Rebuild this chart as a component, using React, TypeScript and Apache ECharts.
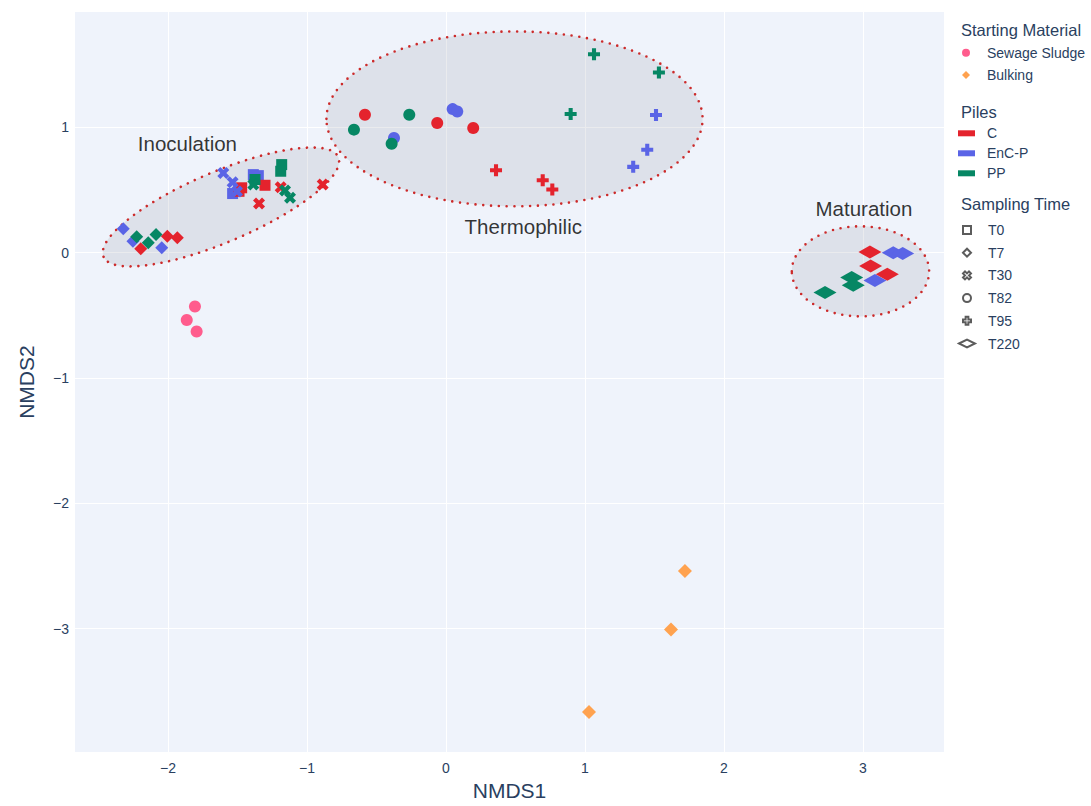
import React, { useEffect, useRef } from "react";
import * as echarts from "echarts";

// ---------- data ----------
const PILES = ["EnC-P", "C", "PP"]; // drawing order
const PILE_LEGEND = ["C", "EnC-P", "PP"];
const PILE_COLORS: Record<string, string> = { C: "#E4232D", "EnC-P": "#5A64E6", PP: "#068764" };
const TIMES = ["T0", "T7", "T30", "T82", "T95", "T220"];

const SEWAGE_SLUDGE = [[-1.806, -0.43], [-1.865, -0.537], [-1.794, -0.629]];
const BULKING = [[1.719, -2.54], [1.619, -3.007], [1.029, -3.665]];

const C_T0 = [[-1.47, 0.518], [-1.489, 0.49], [-1.302, 0.538]];
const C_T7 = [[-2.196, 0.032], [-2.005, 0.132], [-1.933, 0.119]];
const C_T30 = [[-1.345, 0.393], [-1.189, 0.522], [-0.887, 0.544]];
const C_T82 = [[-0.583, 1.101], [-0.063, 1.035], [0.196, 0.995]];
const C_T95 = [[0.36, 0.658], [0.696, 0.578], [0.765, 0.504]];
const C_T220 = [[3.05, 0.005], [3.055, -0.107], [3.175, -0.173]];

const ENCP_T0 = [[-1.386, 0.623], [-1.35, 0.615], [-1.535, 0.472]];
const ENCP_T7 = [[-2.322, 0.191], [-2.252, 0.092], [-2.045, 0.04]];
const ENCP_T30 = [[-1.602, 0.637], [-1.535, 0.562], [-1.504, 0.488]];
const ENCP_T82 = [[-0.374, 0.916], [0.048, 1.146], [0.081, 1.127]];
const ENCP_T95 = [[1.511, 1.099], [1.448, 0.822], [1.347, 0.685]];
const ENCP_T220 = [[3.218, 0.0], [3.286, -0.006], [3.086, -0.221]];

const PP_T0 = [[-1.182, 0.703], [-1.189, 0.65], [-1.374, 0.584]];
const PP_T7 = [[-2.225, 0.127], [-2.142, 0.08], [-2.086, 0.146]];
const PP_T30 = [[-1.386, 0.544], [-1.158, 0.496], [-1.122, 0.438]];
const PP_T82 = [[-0.662, 0.982], [-0.264, 1.101], [-0.391, 0.87]];
const PP_T95 = [[1.065, 1.584], [1.532, 1.438], [0.897, 1.107]];
const PP_T220 = [[2.919, -0.199], [2.93, -0.26], [2.727, -0.318]];

const POINTS: Record<string, number[][][]> = {
  C: [C_T0, C_T7, C_T30, C_T82, C_T95, C_T220],
  "EnC-P": [ENCP_T0, ENCP_T7, ENCP_T30, ENCP_T82, ENCP_T95, ENCP_T220],
  PP: [PP_T0, PP_T7, PP_T30, PP_T82, PP_T95, PP_T220],
};

// phase ellipses: [centerX, centerY, semi-major, semi-minor (x-axis units), angle deg]
const PHASE_ELLIPSES = [
  [-1.619, 0.365, 0.917, 0.253, 23],
  [0.493, 1.068, 1.353, 0.629, 0],
  [2.982, -0.149, 0.494, 0.324, 0],
];
const PHASE_LABELS = ["Inoculation", "Thermophilic", "Maturation"];
const PHASE_LABEL_POS = [[-1.86, 0.875], [0.556, 0.212], [3.007, 0.353]];

// ---------- symbols ----------
const X_PATH = "path://M0,2.5L2.5,0L5,2.5L7.5,0L10,2.5L7.5,5L10,7.5L7.5,10L5,7.5L2.5,10L0,7.5L2.5,5Z";
const PLUS_PATH = "path://M3.3,0H6.7V3.3H10V6.7H6.7V10H3.3V6.7H0V3.3H3.3Z";
const SQUARE_PATH = "path://M0,0H10V10H0Z";
const DIAMOND_PATH = "path://M0,5L5,0L10,5L5,10Z";
const CIRCLE_PATH = "path://M0,5A5,5,0,1,1,10,5A5,5,0,1,1,0,5Z";
const WIDE_DIAMOND_PATH = "path://M0,4.5L9,0L18,4.5L9,9Z";
const BAR_PATH = "path://M0,0H17V6H0Z";
const TIME_SYMBOLS = ["rect", "diamond", X_PATH, "circle", PLUS_PATH, "diamond"];
const TIME_SIZES: any[] = [11, 13, 12, 12, 12, [23, 13]];
const TIME_LEGEND_ICONS = [SQUARE_PATH, DIAMOND_PATH, X_PATH, CIRCLE_PATH, PLUS_PATH, WIDE_DIAMOND_PATH];

const FONT = 'Arial, "Liberation Sans", Helvetica, sans-serif';
const TEXT_COLOR = "#2a3f5f";

const fmt = (v: number) => (v < 0 ? "\u2212" + Math.abs(v) : String(v));

export default function App() {
  const ref = useRef<HTMLDivElement>(null);

  useEffect(() => {
    if (!ref.current) return;
    const chart = echarts.init(ref.current, undefined, { renderer: "svg" });

    const series: any[] = [];

    series.push({
      type: "custom",
      name: "phases",
      silent: true,
      data: PHASE_ELLIPSES,
      renderItem: (params: any, api: any) => {
        const c = api.coord([api.value(0), api.value(1)]);
        const unit = api.size([1, 0])[0];
        return {
          type: "ellipse",
          x: c[0],
          y: c[1],
          rotation: (api.value(4) * Math.PI) / 180,
          shape: { cx: 0, cy: 0, rx: api.value(2) * unit, ry: api.value(3) * unit },
          style: {
            fill: "rgba(150,155,170,0.2)",
            stroke: "#cc2a2a",
            lineWidth: 2.6,
            lineDash: [0, 7.8],
            lineCap: "round",
          },
        };
      },
    });

    series.push({
      type: "scatter",
      name: "Sewage Sludge",
      symbol: "circle",
      symbolSize: 12,
      itemStyle: { color: "#FF5C8D", opacity: 1 },
      data: SEWAGE_SLUDGE,
    });
    series.push({
      type: "scatter",
      name: "Bulking",
      symbol: "diamond",
      symbolSize: 14,
      itemStyle: { color: "#FFA24F", opacity: 1 },
      data: BULKING,
    });

    TIMES.forEach((t, ti) => {
      PILES.forEach((p) => {
        series.push({
          type: "scatter",
          name: p,
          symbol: TIME_SYMBOLS[ti],
          symbolSize: TIME_SIZES[ti],
          itemStyle: { color: PILE_COLORS[p], opacity: 1 },
          data: POINTS[p][ti],
        });
      });
    });

    // dummy series for the Sampling Time legend
    TIMES.forEach((t, ti) => {
      series.push({
        type: "scatter",
        name: t,
        symbol: TIME_LEGEND_ICONS[ti],
        itemStyle: { color: "rgba(0,0,0,0)", borderColor: "#333", borderWidth: 1.4 },
        data: [],
      });
    });

    series.push({
      type: "scatter",
      name: "phase labels",
      silent: true,
      symbolSize: 1,
      itemStyle: { color: "rgba(0,0,0,0)" },
      label: {
        show: true,
        position: "inside",
        formatter: "{b}",
        fontSize: 20.5,
        color: "#000000",
        textBorderWidth: 0,
        fontFamily: FONT,
      },
      data: PHASE_LABELS.map((n, i) => ({ name: n, value: PHASE_LABEL_POS[i] })),
    });

    const legendText = {
      fontSize: 14,
      color: TEXT_COLOR,
      lineHeight: 16,
      fontFamily: FONT,
    };

    chart.setOption({
      animation: false,
      textStyle: { fontFamily: FONT },
      grid: {
        left: 75,
        right: 147,
        top: 12,
        bottom: 52,
        show: true,
        backgroundColor: "#eff3fb",
        borderWidth: 0,
      },
      xAxis: {
        type: "value",
        min: -2.669,
        max: 3.583,
        axisLine: { show: false },
        axisTick: { show: false },
        splitLine: { show: true, lineStyle: { color: "#ffffff", width: 1 }, showMinLine: false, showMaxLine: false },
        axisLabel: {
          color: TEXT_COLOR,
          fontSize: 14,
          margin: 9,
          showMinLabel: false,
          showMaxLabel: false,
          formatter: fmt,
        },
        name: "NMDS1",
        nameLocation: "middle",
        nameGap: 25,
        nameTextStyle: { fontSize: 21, color: TEXT_COLOR },
      },
      yAxis: {
        type: "value",
        min: -3.986,
        max: 1.921,
        axisLine: { show: false },
        axisTick: { show: false },
        splitLine: { show: true, lineStyle: { color: "#ffffff", width: 1 }, showMinLine: false, showMaxLine: false },
        axisLabel: {
          color: TEXT_COLOR,
          fontSize: 14,
          margin: 6,
          showMinLabel: false,
          showMaxLabel: false,
          formatter: fmt,
        },
        name: "NMDS2",
        nameLocation: "middle",
        nameGap: 38,
        nameTextStyle: { fontSize: 21, color: TEXT_COLOR },
      },
      legend: [
        {
          data: [
            { name: "Sewage Sludge", icon: CIRCLE_PATH },
            { name: "Bulking", icon: DIAMOND_PATH },
          ],
          orient: "vertical",
          left: 962,
          top: 44.7,
          padding: 0,
          itemWidth: 32,
          itemHeight: 8,
          itemGap: 6.3,
          selectedMode: false,
          textStyle: legendText,
        },
        {
          data: PILE_LEGEND.map((p) => ({ name: p, icon: BAR_PATH })),
          orient: "vertical",
          left: 958,
          top: 125.3,
          padding: 0,
          itemWidth: 31,
          itemHeight: 6,
          itemGap: 4,
          selectedMode: false,
          textStyle: legendText,
        },
        {
          data: TIMES.map((t, i) => ({ name: t, icon: TIME_LEGEND_ICONS[i] })),
          orient: "vertical",
          left: 958,
          top: 222,
          padding: 0,
          itemWidth: 32,
          itemHeight: 8,
          itemGap: 6.7,
          selectedMode: false,
          textStyle: legendText,
        },
      ],
      graphic: [
        { type: "text", left: 961, top: 21.5, style: { text: "Starting Material", fontSize: 16.5, fill: TEXT_COLOR, fontFamily: FONT } },
        { type: "text", left: 961, top: 103, style: { text: "Piles", fontSize: 16.5, fill: TEXT_COLOR, fontFamily: FONT } },
        { type: "text", left: 961, top: 195.5, style: { text: "Sampling Time", fontSize: 16.5, fill: TEXT_COLOR, fontFamily: FONT } },
      ],
      series,
    });

    return () => chart.dispose();
  }, []);

  return (
    <div
      ref={ref}
      style={{ position: "fixed", left: 0, top: 0, width: 1091, height: 806, background: "#ffffff" }}
    />
  );
}
